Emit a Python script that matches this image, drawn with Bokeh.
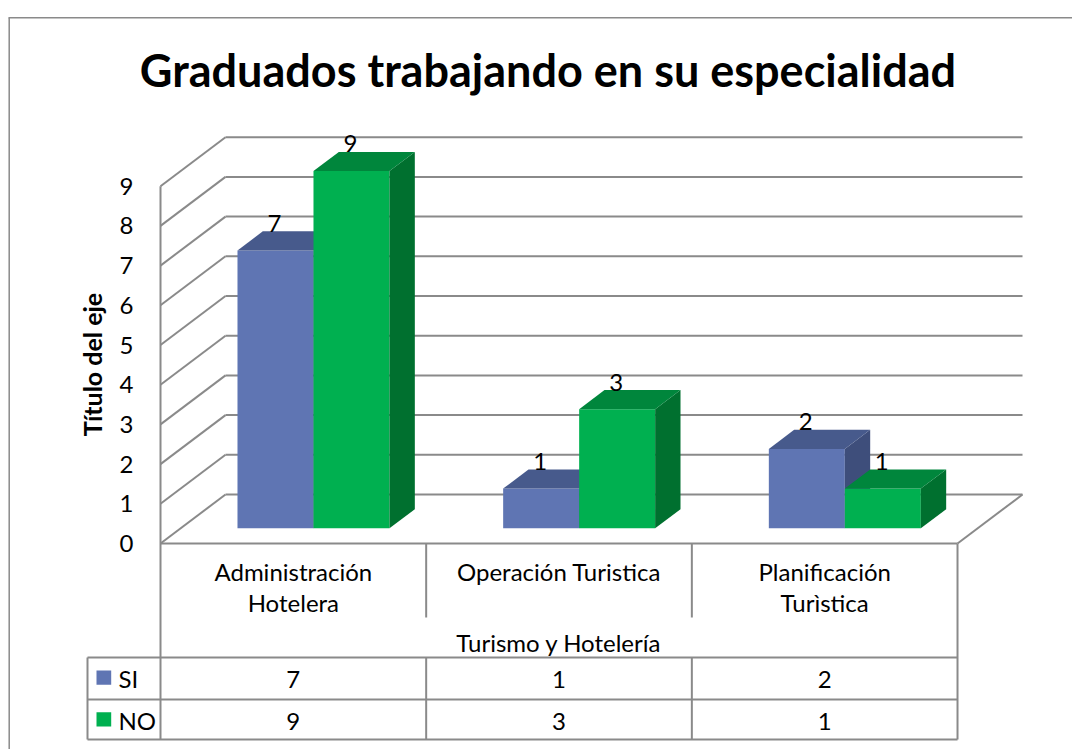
from bokeh.plotting import figure
from bokeh.models import Range1d
from bokeh.embed import file_html
from bokeh.resources import INLINE
from bokeh.core.properties import value

# ---------------- data ----------------
title_text = "Graduados trabajando en su especialidad"
categories = ["Administración\nHotelera", "Operación Turistica", "Planificación\nTurìstica"]
group_label = "Turismo y Hotelería"
series_names = ["SI", "NO"]
si_values = [7, 1, 2]
no_values = [9, 3, 1]
y_ticks = [0, 1, 2, 3, 4, 5, 6, 7, 8, 9]
y_axis_title = "Título del eje"

# ---------------- styles / layout ----------------
FONT = value("Lato")
GRID = "#8A8A8A"
SI_COLS = ("#5F75B3", "#475A8C", "#3E4E7B")   # front, top, side
NO_COLS = ("#00B050", "#00863C", "#00702F")

ORG = 0
W, H = 1072, 749
X0_PAGE, CAT_PX = 160.0, 265.67
Y0_PAGE, UNIT_PX = 543.0, 39.7


def X(px):
    return (px - X0_PAGE) / CAT_PX


def Y(py):
    return (Y0_PAGE - py) / UNIT_PX


DX = 65.0 / CAT_PX      # depth offset (category units)
DY = 49.0 / UNIT_PX     # depth offset (value units)
D0 = 0.31               # bar front depth fraction
DD = 0.39               # bar depth fraction
BW = 76.0 / CAT_PX      # bar width
n = len(categories)
vmax = y_ticks[-1]

p = figure(width=W, height=H,
           x_range=Range1d(X(ORG), X(ORG + W)), y_range=Range1d(Y(ORG + H), Y(ORG)),
           output_backend="svg", toolbar_location=None, min_border=0,
           x_axis_location=None, y_axis_location=None)
p.xgrid.visible = False
p.ygrid.visible = False
p.outline_line_color = None
p.background_fill_color = "white"
p.border_fill_color = "white"

TXT = dict(text_font=FONT, text_color="black", text_baseline="middle")

# chart border (left and top)
p.line([X(8.7), X(8.7)], [Y(17.3), Y(ORG + H)], line_color="#8A8A8A", line_width=1.5)
p.line([X(8), X(ORG + W)], [Y(17.3), Y(17.3)], line_color="#8A8A8A", line_width=1.5)

# ---- 3D walls ----
xs, ys = [], []
for v in y_ticks:
    xs.append([DX, n + DX]); ys.append([v + DY, v + DY])      # back wall
    xs.append([0, DX]); ys.append([v, v + DY])                # left wall diagonals
xs.append([0, n]); ys.append([0, 0])                          # floor front
xs.append([n, n + DX]); ys.append([0, DY])                    # floor right
p.multi_line(xs, ys, line_color=GRID, line_width=2)

# ---- table lines ----
tx, ty = [], []
tx.append([0, 0]); ty.append([vmax, Y(739)])
tx.append([n, n]); ty.append([0, Y(739)])
for i in range(1, n):
    tx.append([i, i]); ty.append([0, Y(617)])
    tx.append([i, i]); ty.append([Y(657), Y(739)])
for py in (657, 699, 739):
    tx.append([X(87), n]); ty.append([Y(py), Y(py)])
tx.append([X(87), X(87)]); ty.append([Y(657), Y(739)])
p.multi_line(tx, ty, line_color=GRID, line_width=2)

# ---- bars ----
def draw_series(vals, offset, cols):
    left, right, bottom, top = [], [], [], []
    top_xs, top_ys, side_xs, side_ys = [], [], [], []
    ddx, ddy = DD * DX, DD * DY
    for i, v in enumerate(vals):
        c = i + 0.5 + D0 * DX
        l = c - BW if offset == 0 else c
        r = l + BW
        b = D0 * DY
        t = b + v
        left.append(l); right.append(r); bottom.append(b); top.append(t)
        top_xs.append([l, r, r + ddx, l + ddx]); top_ys.append([t, t, t + ddy, t + ddy])
        side_xs.append([r, r + ddx, r + ddx, r]); side_ys.append([b, b + ddy, t + ddy, t])
    p.quad(left=left, right=right, bottom=bottom, top=top, fill_color=cols[0], line_color=None)
    p.patches(side_xs, side_ys, fill_color=cols[2], line_color=None)
    p.patches(top_xs, top_ys, fill_color=cols[1], line_color=None)
    # data labels (sitting on the back edge of the top face)
    p.text(x=[(l + r) / 2 - 1.0 / CAT_PX for l, r in zip(left, right)], y=[t + ddy for t in top],
           text=[str(v) for v in vals], text_font_size="24px", text_align="center",
           y_offset=-8, **TXT)


draw_series(si_values, 0, SI_COLS)
draw_series(no_values, 1, NO_COLS)

# ---- value tick labels ----
p.text(x=[X(133)] * len(y_ticks), y=y_ticks, text=[str(t) for t in y_ticks],
       text_font_size="24px", text_align="right", **TXT)

# ---- axis title ----
p.text(x=[X(91)], y=[Y(364)], text=[y_axis_title], angle=1.5707963,
       text_font_size="25px", text_font_style="bold", text_align="center", **TXT)

# ---- title ----
p.text(x=[X(547.5)], y=[Y(69)], text=[title_text], text_font_size="45px",
       text_font_style="bold", text_align="center", **TXT)

# ---- category labels ----
cx, cy, ct = [], [], []
for i, cat in enumerate(categories):
    for j, line in enumerate(cat.split("\n")):
        cx.append(i + 0.5); cy.append(Y(571 + 30.5 * j)); ct.append(line)
cx.append(n / 2); cy.append(Y(641.5)); ct.append(group_label)
p.text(x=cx, y=cy, text=ct, text_font_size="24px", text_align="center", **TXT)

# ---- data table values ----
vx, vy, vt = [], [], []
for row, vals in enumerate([si_values, no_values]):
    for i, v in enumerate(vals):
        vx.append(i + 0.5); vy.append(Y(679 + 41.5 * row)); vt.append(str(v))
p.text(x=vx, y=vy, text=vt, text_font_size="24px", text_align="center", **TXT)

# ---- legend keys in table ----
p.quad(left=[X(96)] * 2, right=[X(110.7)] * 2,
       bottom=[Y(684.3), Y(726)], top=[Y(670), Y(711.7)],
       fill_color=[SI_COLS[0], NO_COLS[0]], line_color=None)
p.text(x=[X(118)] * 2, y=[Y(678), Y(720)], text=series_names,
       text_font_size="24px", text_align="left", **TXT)

open("out.html", "w").write(file_html(p, INLINE))
